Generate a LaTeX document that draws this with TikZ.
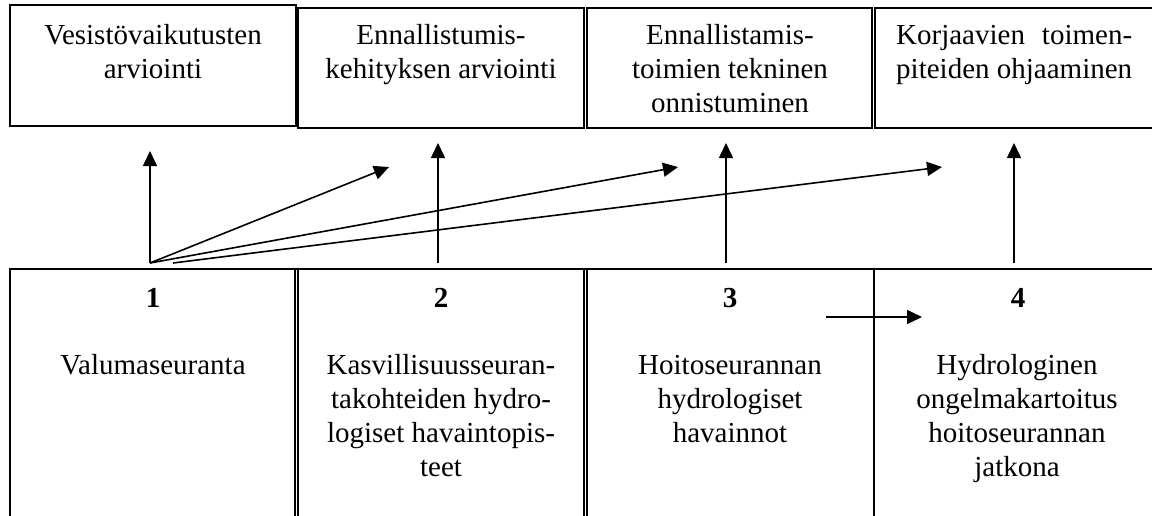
\documentclass[tikz,border=0pt]{standalone}
\usepackage{fontspec}
\setmainfont{Liberation Serif}
\usetikzlibrary{arrows.meta}
\begin{document}
\begin{tikzpicture}[x=1pt,y=-1pt,
  frame/.style={line width=1.6pt},
  arr/.style={line width=1.6pt,-{Triangle[length=15pt,width=14pt]}},
  txt/.style={inner sep=0pt,font=\fontsize{29}{34}\selectfont},
  num/.style={inner sep=0pt,font=\fontsize{29}{34}\selectfont\bfseries,anchor=base},
]
\useasboundingbox (0,0) rectangle (1152,515);
\fill[white] (0,0) rectangle (1152,515);

% top boxes
\draw[frame] (10,5) rectangle (296,126);
\draw[frame] (298,8) rectangle (584,128);
\draw[frame] (587,8) rectangle (872,128);
\draw[frame] (1154,8) -- (875,8) -- (875,128) -- (1154,128);

% bottom frame
\draw[frame] (10,516) -- (10,269) -- (1154,269);
\draw[frame] (295,269) -- (295,516);
\draw[frame] (298,269) -- (298,516);
\draw[frame] (584,269) -- (584,516);
\draw[frame] (587,269) -- (587,516);
\draw[frame] (874,269) -- (874,516);

% top texts
\node[txt,anchor=north] (tA) at (153,20) {\begin{tabular}{@{}c@{}}Vesistövaikutusten\\arviointi\end{tabular}};
\node[txt,anchor=north] (tB) at (441,20) {\begin{tabular}{@{}c@{}}Ennallistumis-\\kehityksen arviointi\end{tabular}};
\node[txt,anchor=north] (tC) at (730,20) {\begin{tabular}{@{}c@{}}Ennallistamis-\\toimien tekninen\\onnistuminen\end{tabular}};
\node[txt,anchor=north west] (tD) at (896,20) {\begin{tabular}{@{}l@{}}Korjaavien\hfill toimen-\\piteiden ohjaaminen\end{tabular}};

% numbers
\node[num] (n1) at (153,307) {1};
\node[num] (n2) at (441,307) {2};
\node[num] (n3) at (730,307) {3};
\node[num] (n4) at (1018,307) {4};

% bottom texts
\node[txt,anchor=north] (b1) at (153,350) {\begin{tabular}{@{}c@{}}Valumaseuranta\end{tabular}};
\node[txt,anchor=north] (b2) at (441,350) {\begin{tabular}{@{}c@{}}Kasvillisuusseuran-\\takohteiden hydro-\\logiset havaintopis-\\teet\end{tabular}};
\node[txt,anchor=north] (b3) at (730,350) {\begin{tabular}{@{}c@{}}Hoitoseurannan\\hydrologiset\\havainnot\end{tabular}};
\node[txt,anchor=north] (b4) at (1017,350) {\begin{tabular}{@{}c@{}}Hydrologinen\\ongelmakartoitus\\hoitoseurannan\\jatkona\end{tabular}};

% arrow end points
\coordinate (s1) at (150,263);
\coordinate (s4) at (173,263);
\coordinate (t1) at (150,151);
\coordinate (t2) at (389,167);
\coordinate (t3) at (678,167);
\coordinate (t4) at (942,167);
\coordinate (s5) at (438,263);
\coordinate (t5) at (438,143);
\coordinate (s6) at (726,263);
\coordinate (t6) at (726,143);
\coordinate (s7) at (1014,263);
\coordinate (t7) at (1014,143);
\coordinate (s8) at (826,317);
\coordinate (t8) at (922,317);

\draw[arr] (s1) -- (t1);
\draw[arr] (s1) -- (t2);
\draw[arr] (s1) -- (t3);
\draw[arr] (s4) -- (t4);
\draw[arr] (s5) -- (t5);
\draw[arr] (s6) -- (t6);
\draw[arr] (s7) -- (t7);
\draw[arr] (s8) -- (t8);
\end{tikzpicture}
\end{document}
